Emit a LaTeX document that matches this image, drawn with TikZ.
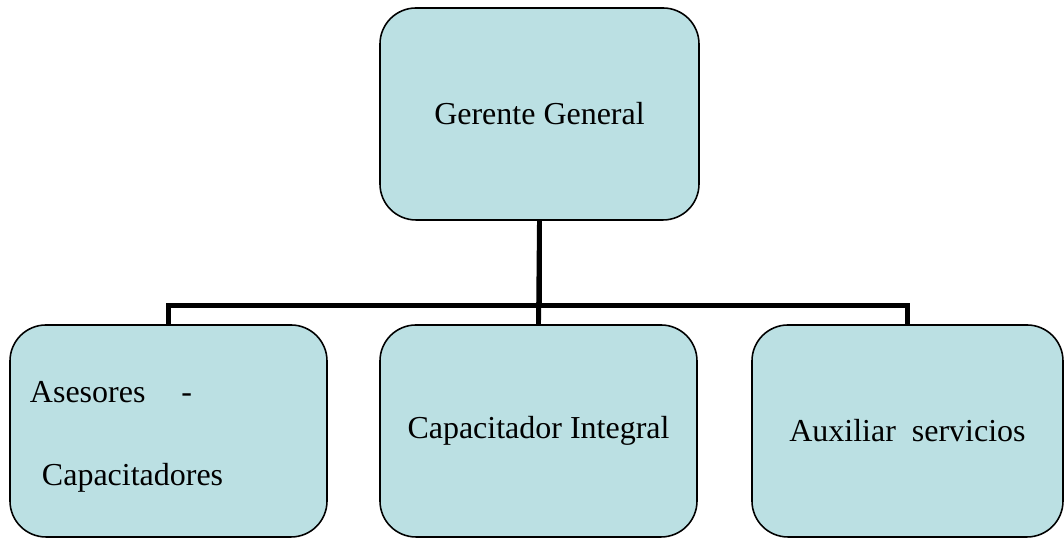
\documentclass[tikz,border=0pt]{standalone}
\usepackage{fontspec}
\setmainfont{Liberation Serif}
\definecolor{boxfill}{RGB}{187,224,227}
\tikzset{
  puesto/.style={draw, line width=0.45pt, fill=boxfill, rounded corners=0.36cm,
    minimum width=3.17cm, minimum height=2.12cm, inner sep=0pt,
    font=\fontsize{9.1}{11}\selectfont},
  linea/.style={line width=1.4pt}
}
\begin{document}
\begin{tikzpicture}
\useasboundingbox (0,0) rectangle (10.64,5.38);
\node [puesto, minimum width=3.19cm] (gerente) at (5.395,4.24) {Gerente General};

\node [puesto, align=left, text width=2.77cm, inner xsep=0.2cm] (asesores) at (1.685,1.07)
  {\rule{0pt}{0.33cm}Asesores\hspace{0.36cm}-\\[0.44cm]\hspace*{0.12cm}Capacitadores};
\node [puesto] (capacitador) at (5.385,1.07) {Capacitador Integral};
\node [puesto, minimum width=3.11cm] (auxiliar) at (9.075,1.07) {Auxiliar\ \ servicios};

\draw [linea] (gerente.south) -- (capacitador.north);
\draw [linea] (gerente.south) --++ (0,-0.85) -| (asesores.north);
\draw [linea] (gerente.south) --++ (0,-0.85) -| (auxiliar.north);
\end{tikzpicture}
\end{document}
